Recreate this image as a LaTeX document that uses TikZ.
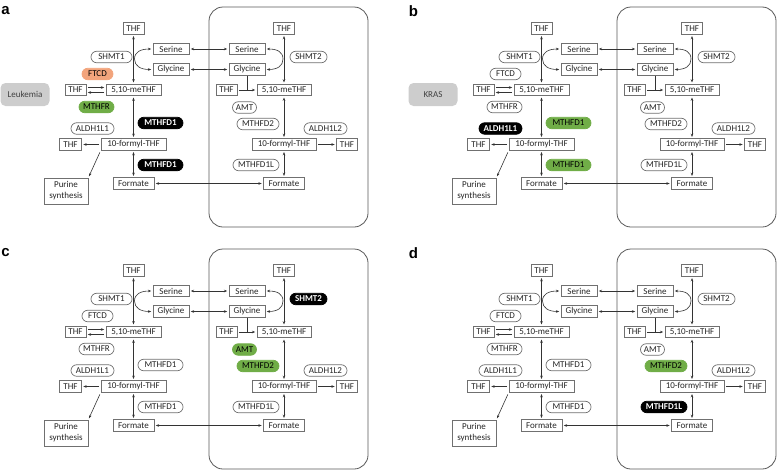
\documentclass[tikz,border=0pt]{standalone}
\usepackage{fontspec}
\setmainfont{Carlito}
\newfontfamily\panelfont{Liberation Sans}
\usepackage{tikz}
\usetikzlibrary{arrows.meta, positioning, calc}
\definecolor{LineGray}{HTML}{333333}
\definecolor{BoxGray}{HTML}{707070}
\definecolor{TagGray}{HTML}{CDCDCD}
\definecolor{HiGreen}{HTML}{70AD47}
\definecolor{HiOrange}{HTML}{F2A47C}
\newcommand{\labelsize}{\fontsize{9}{10.8}\selectfont}
\tikzset{
  % Box styles
  metbox/.style={rectangle, draw=BoxGray, line width=0.7pt, fill=white, minimum height=11.5pt, inner sep=0.5pt, font=\labelsize, text=black!85, align=center},
  enzyme/.style={rectangle, rounded corners=5.7pt, draw=BoxGray, line width=0.7pt, fill=white, minimum height=11.5pt, inner sep=0pt, font=\labelsize, text=black!85},
  tagbox/.style={rectangle, rounded corners=5pt, fill=TagGray, minimum width=49pt, minimum height=23pt, font=\labelsize, text=black!75},
  mitobox/.style={rectangle, rounded corners=14pt, draw=black!65, line width=0.8pt},
  panellabel/.style={font=\panelfont\bfseries\fontsize{15}{15}\selectfont},
  % Highlight styles
  greenenz/.style={fill=HiGreen, draw=HiGreen, text=black},
  blackenz/.style={fill=black, draw=black, text=white, font=\labelsize\bfseries},
  orangeenz/.style={fill=HiOrange, draw=HiOrange, text=black},
  % per-panel enzyme colours, plain by default
  hl SHMT1/.style={}, hl FTCD/.style={}, hl MTHFR/.style={}, hl MTHFD1/.style={},
  hl ALDH1L1/.style={}, hl SHMT2/.style={}, hl AMT/.style={}, hl MTHFD2/.style={},
  hl ALDH1L2/.style={}, hl MTHFD1L/.style={},
  % Arrow styles
  arrow/.style={->, >={Stealth[length=3.2pt, width=2.6pt]}, line width=0.6pt, LineGray, shorten <=1.5pt, shorten >=1.5pt},
  dblarrow/.style={arrow, <->},
  plainline/.style={line width=0.6pt, LineGray}
}

% one panel of the folate pathway (cytosol + mitochondrion)
\newcommand{\folatepanel}{%
  \node[mitobox, minimum width=159pt, minimum height=220pt] (mito) at (288.5,117) {};
  % cytosol
  \node[metbox, minimum width=21pt] (thfT) at (133.5,28.5) {THF};
  \node[metbox, minimum width=36pt] (ser1) at (171,49) {Serine};
  \node[metbox, minimum width=36pt] (gly1) at (171,69.5) {Glycine};
  \node[metbox, minimum width=21pt] (thfL) at (75.5,90) {THF};
  \node[metbox, minimum width=55pt] (methf1) at (133.5,90) {5,10-meTHF};
  \node[metbox, minimum width=22pt] (thfL2) at (70.5,144.5) {THF};
  \node[metbox, minimum width=65pt] (formyl1) at (133.5,144.5) {10-formyl-THF};
  \node[metbox, minimum width=41pt] (formate1) at (133.5,183.5) {Formate};
  \node[metbox, minimum width=44pt, minimum height=26pt] (purine) at (66,191) {Purine\\synthesis};
  \node[enzyme, minimum width=41pt, hl SHMT1] (shmt1) at (111.5,57) {SHMT1};
  \node[enzyme, minimum width=31pt, hl FTCD] (ftcd) at (97.5,74) {FTCD};
  \node[enzyme, minimum width=35pt, hl MTHFR] (mthfr) at (96.5,107) {MTHFR};
  \node[enzyme, minimum width=45pt, hl MTHFD1] (mthfd1a) at (160.5,123) {MTHFD1};
  \node[enzyme, minimum width=43pt, hl ALDH1L1] (aldh1) at (92.5,128.5) {ALDH1L1};
  \node[enzyme, minimum width=45pt, hl MTHFD1] (mthfd1b) at (160.5,165) {MTHFD1};
  % mitochondrion
  \node[metbox, minimum width=21pt] (thfT2) at (284,28.5) {THF};
  \node[metbox, minimum width=36pt] (ser2) at (247,49) {Serine};
  \node[metbox, minimum width=36pt] (gly2) at (247,69.5) {Glycine};
  \node[metbox, minimum width=21pt] (thfR) at (226.5,90) {THF};
  \node[metbox, minimum width=54pt] (methf2) at (284,90) {5,10-meTHF};
  \node[metbox, minimum width=64pt] (formyl2) at (284,144.5) {10-formyl-THF};
  \node[metbox, minimum width=21pt] (thfR2) at (347,144.5) {THF};
  \node[metbox, minimum width=41pt] (formate2) at (284,183.5) {Formate};
  \node[enzyme, minimum width=37pt, hl SHMT2] (shmt2) at (308.5,57) {SHMT2};
  \node[enzyme, minimum width=24pt, hl AMT] (amt) at (244.5,107.5) {AMT};
  \node[enzyme, minimum width=42pt, hl MTHFD2] (mthfd2) at (258,124) {MTHFD2};
  \node[enzyme, minimum width=43pt, hl ALDH1L2] (aldh2) at (325.5,128.5) {ALDH1L2};
  \node[enzyme, minimum width=46pt, hl MTHFD1L] (mthfd1l) at (256,165) {MTHFD1L};
  \coordinate (shmtL) at (134.5,59);
  \coordinate (shmtR) at (283,59);
  % connectors
  \draw[dblarrow] (thfT) -- (methf1);
  \draw[dblarrow] (methf1) -- (formyl1);
  \draw[dblarrow] (formyl1) -- (formate1);
  \draw[dblarrow] (ser1.west) .. controls +(-12,0) and +(0,-7) .. (shmtL) .. controls +(0,7) and +(-12,0) .. (gly1.west);
  \draw[arrow] ([yshift=2.5pt]thfL.east) -- ([yshift=2.5pt]methf1.west);
  \draw[arrow] ([yshift=-2.5pt]methf1.west) -- ([yshift=-2.5pt]thfL.east);
  \draw[arrow] (formyl1) -- (thfL2);
  \draw[arrow, shorten <=2pt] (formyl1.south west) -- (purine.north east);
  \draw[dblarrow] (ser1) -- (ser2);
  \draw[dblarrow] (gly1) -- (gly2);
  \draw[dblarrow] (formate1) -- (formate2);
  \draw[dblarrow] (thfT2) -- (methf2);
  \draw[dblarrow] (methf2) -- (formyl2);
  \draw[dblarrow] (formyl2) -- (formate2);
  \draw[dblarrow] (ser2.east) .. controls +(12,0) and +(0,-7) .. (shmtR) .. controls +(0,7) and +(12,0) .. (gly2.east);
  \draw[arrow] (thfR) -- (methf2);
  \draw[plainline] (gly2.south) -- (gly2.south |- methf2.west);
  \draw[arrow] (formyl2) -- (thfR2);
}

\begin{document}
\begin{tikzpicture}[x=1pt, y=-1pt]
  \useasboundingbox (0,0) rectangle (778,469);

  % a: leukemia
  \begin{scope}[name prefix=a-, hl FTCD/.style={orangeenz}, hl MTHFR/.style={greenenz}, hl MTHFD1/.style={blackenz}]
    \folatepanel
    \node[panellabel] (letter) at (5.5,11) {a};
    \node[tagbox] (disease) at (25,94.5) {Leukemia};
  \end{scope}

  % b: KRAS
  \begin{scope}[shift={(408,0)}, name prefix=b-, hl ALDH1L1/.style={blackenz}, hl MTHFD1/.style={greenenz}]
    \folatepanel
    \node[panellabel] (letter) at (5.5,11) {b};
    \node[tagbox] (disease) at (25,94.5) {KRAS};
  \end{scope}

  % c
  \begin{scope}[shift={(0,242)}, name prefix=c-, hl SHMT2/.style={blackenz}, hl AMT/.style={greenenz}, hl MTHFD2/.style={greenenz}]
    \folatepanel
    \node[panellabel] (letter) at (5.5,11) {c};
  \end{scope}

  % d
  \begin{scope}[shift={(408,242)}, name prefix=d-, hl MTHFD2/.style={greenenz}, hl MTHFD1L/.style={blackenz}]
    \folatepanel
    \node[panellabel] (letter) at (5.5,11) {d};
  \end{scope}
\end{tikzpicture}
\end{document}
